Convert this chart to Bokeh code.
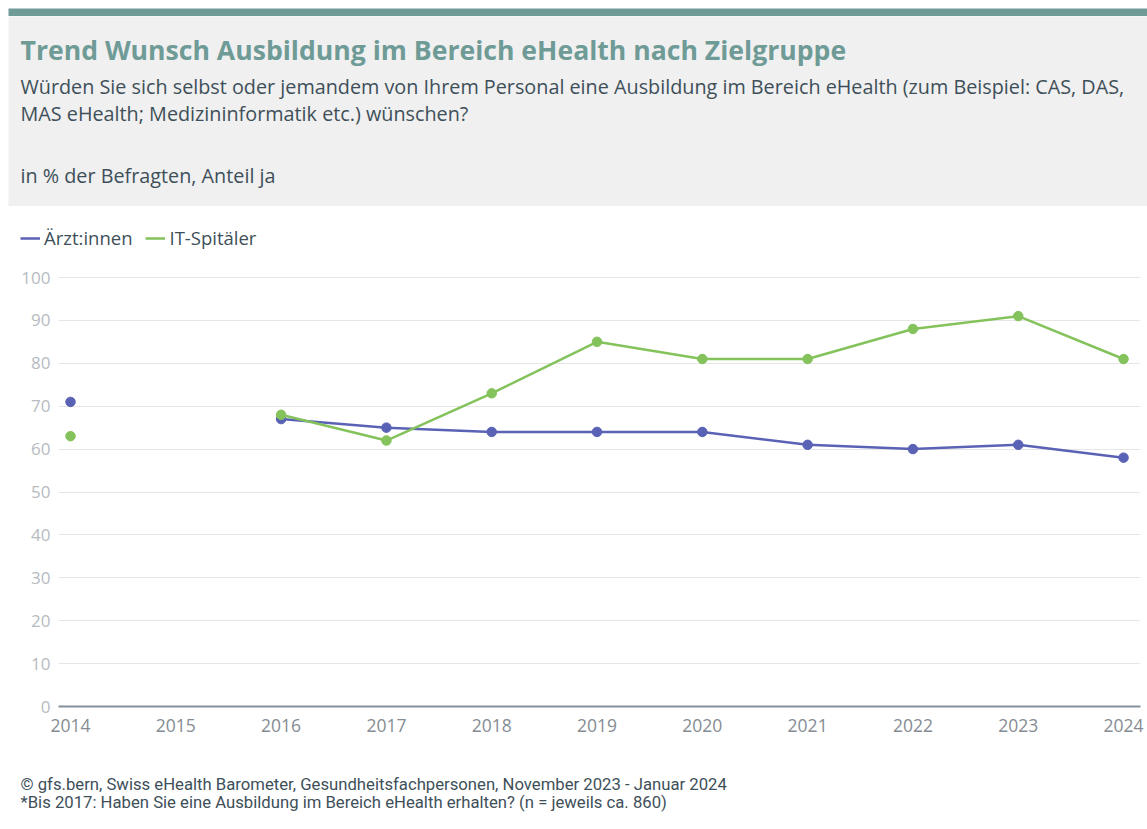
import math
from bokeh.plotting import figure
from bokeh.layouts import column, row
from bokeh.models import Range1d, FixedTicker, Legend, LegendItem, Label, ColumnDataSource
from bokeh.embed import file_html
from bokeh.resources import INLINE

# ---------------- data ----------------
years = [2014, 2015, 2016, 2017, 2018, 2019, 2020, 2021, 2022, 2023, 2024]
aerzte = [71, math.nan, 67, 65, 64, 64, 64, 61, 60, 61, 58]
it_spitaeler = [63, math.nan, 68, 62, 73, 85, 81, 81, 88, 91, 81]
series_names = ["Ärzt:innen", "IT-Spitäler"]
y_ticks = [0, 10, 20, 30, 40, 50, 60, 70, 80, 90, 100]

title_text = "Trend Wunsch Ausbildung im Bereich eHealth nach Zielgruppe"
subtitle_lines = [
    "Würden Sie sich selbst oder jemandem von Ihrem Personal eine Ausbildung im Bereich eHealth (zum Beispiel: CAS, DAS,",
    "MAS eHealth; Medizininformatik etc.) wünschen?",
]
unit_text = "in % der Befragten, Anteil ja"
footer_lines = [
    "© gfs.bern, Swiss eHealth Barometer, Gesundheitsfachpersonen, November 2023 - Januar 2024",
    "*Bis 2017: Haben Sie eine Ausbildung im Bereich eHealth erhalten? (n = jeweils ca. 860)",
]

# ---------------- styles ----------------
FONT = "Open Sans"
FONT_FOOT = "Roboto"
W = 1139
BL, BR = 50, 7
BLUE = "#5a62b6"
GREEN = "#84c25b"
TEAL = "#6f9b97"
TEXT = "#3e4f59"
HEADER_BG = "#f0f0f0"
TX = 12   # text left edge in canvas px (page x = 20)


def blank(height, bg):
    f = figure(width=W, height=height, output_backend="svg", toolbar_location=None,
               min_border=0, x_range=Range1d(0, W), y_range=Range1d(height, 0))
    f.axis.visible = False
    f.grid.visible = False
    f.outline_line_color = None
    f.background_fill_color = bg
    f.border_fill_color = bg
    return f


src = ColumnDataSource(dict(year=years, a=aerzte, b=it_spitaeler))

# ---------------- teal bar + header ----------------
bar = blank(10, TEAL)

h = blank(190, HEADER_BG)
h.add_layout(Label(x=TX, y=33, text=title_text, text_font=FONT, text_font_style="bold",
                   text_font_size="26.6px", text_color=TEAL, text_baseline="alphabetic"))
h.add_layout(Label(x=TX, y=70, text=subtitle_lines[0], text_font=FONT,
                   text_font_size="19.8px", text_color=TEXT, text_baseline="alphabetic"))
h.add_layout(Label(x=TX, y=97, text=subtitle_lines[1], text_font=FONT,
                   text_font_size="19.8px", text_color=TEXT, text_baseline="alphabetic"))
h.add_layout(Label(x=TX, y=159, text=unit_text, text_font=FONT,
                   text_font_size="19.8px", text_color=TEXT, text_baseline="alphabetic"))

# ---------------- legend strip ----------------
# the legend's renderers use the series data; with this strip's pixel ranges
# they fall outside its frame, so only the legend keys are visible
LH = 58
lg = blank(LH, "white")
ra = lg.line("year", "a", source=src, line_color=BLUE, line_width=2.5)
rb = lg.line("year", "b", source=src, line_color=GREEN, line_width=2.5)
legend = Legend(items=[LegendItem(label=series_names[0], renderers=[ra]),
                       LegendItem(label=series_names[1], renderers=[rb])],
                orientation="horizontal", location=(TX, 14),
                label_text_font=FONT, label_text_font_size="18.5px", label_text_color=TEXT,
                glyph_width=20, glyph_height=20, label_height=20, label_standoff=4,
                spacing=13, padding=0, margin=0,
                border_line_color=None, background_fill_alpha=0)
lg.add_layout(legend, "center")

# ---------------- main chart ----------------
MH = 496
top_pad = 6
bottom_pad = 54
px_per_unit = 4.29
frame_h = MH - top_pad - bottom_pad
y_end = frame_h / px_per_unit

p = figure(width=W, height=MH,
           x_range=Range1d(2013.886, 2024.161), y_range=Range1d(0, y_end),
           output_backend="svg", toolbar_location=None,
           min_border_left=BL, min_border_right=BR,
           min_border_top=top_pad, min_border_bottom=bottom_pad)
p.outline_line_color = None
p.background_fill_color = "white"
p.border_fill_color = "white"

p.line("year", "a", source=src, line_color=BLUE, line_width=2.5)
p.scatter("year", "a", source=src, size=9.5, fill_color=BLUE, line_color=BLUE)
p.line("year", "b", source=src, line_color=GREEN, line_width=2.5)
p.scatter("year", "b", source=src, size=9.5, fill_color=GREEN, line_color=GREEN)

p.xaxis.ticker = FixedTicker(ticks=years)
p.yaxis.ticker = FixedTicker(ticks=y_ticks)
p.xgrid.visible = False
p.ygrid.grid_line_color = "#e6e6e6"
p.ygrid.grid_line_width = 1

p.yaxis.axis_line_color = None
p.yaxis.major_tick_line_color = None
p.yaxis.minor_tick_line_color = None
p.yaxis.major_tick_out = 0
p.yaxis.minor_tick_out = 0
p.yaxis.major_label_text_font = FONT
p.yaxis.major_label_text_font_size = "17px"
p.yaxis.major_label_text_color = "#b6bbc0"
p.yaxis.major_label_standoff = 8

p.xaxis.axis_line_color = "#84909a"
p.xaxis.axis_line_width = 2
p.xaxis.major_tick_line_color = None
p.xaxis.minor_tick_line_color = None
p.xaxis.major_tick_out = 0
p.xaxis.minor_tick_out = 0
p.xaxis.major_label_text_font = FONT
p.xaxis.major_label_text_font_size = "17.5px"
p.xaxis.major_label_text_color = "#858c93"
p.xaxis.major_label_standoff = 12

# ---------------- footer ----------------
foot = blank(66, "white")
foot.add_layout(Label(x=TX, y=24, text=footer_lines[0], text_font=FONT_FOOT,
                      text_font_size="16.7px", text_color=TEXT, text_baseline="alphabetic"))
foot.add_layout(Label(x=TX, y=42, text=footer_lines[1], text_font=FONT_FOOT,
                      text_font_size="16.7px", text_color=TEXT, text_baseline="alphabetic"))

rule = blank(2, "#dcdcdc")

layout = column(row(bar), row(h), row(lg), p, row(foot), row(rule),
                spacing=0, margin=(6, 0, 0, 8))
open("out.html", "w").write(file_html(layout, INLINE))
